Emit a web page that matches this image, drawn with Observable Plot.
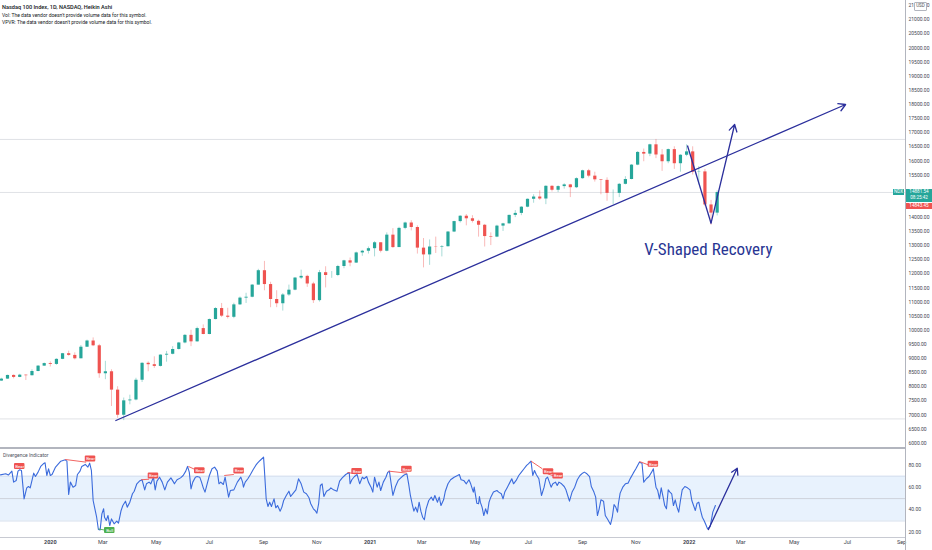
<!DOCTYPE html>
<html><head><meta charset="utf-8">
<script src="https://cdn.jsdelivr.net/npm/d3@7"></script>
<script src="https://cdn.jsdelivr.net/npm/@observablehq/plot@0.6"></script>
<style>
body{margin:0;background:#fff;font-family:Roboto,"Noto Sans",sans-serif;}
#wrap{position:relative;width:932px;height:550px;overflow:hidden;background:#fff;}
#main{position:absolute;left:0;top:0;}
#ind{position:absolute;left:0;top:448px;}
.hdr{position:absolute;left:2px;font-size:5px;line-height:6px;color:#131722;white-space:nowrap;}
.line{position:absolute;background:#b2b5be;}
.badge{position:absolute;color:#fff;font-size:4.6px;line-height:6px;text-align:center;white-space:nowrap;}
</style></head><body>
<div id="wrap">
  <div id="main"></div>
  <div id="ind"></div>
  <div class="line" style="left:0;top:447px;width:905px;height:1.5px;"></div>
  <div class="line" style="left:0;top:537px;width:905px;height:1px;background:#c8cad2"></div>
  <div class="line" style="left:905px;top:0;width:1px;height:550px;"></div>
  <div class="hdr" style="top:4px;font-size:5.6px;font-weight:500;">Nasdaq 100 Index, 1D, NASDAQ, Heikin Ashi</div>
  <div class="hdr" style="top:11.5px;">Vol: The data vendor doesn't provide volume data for this symbol.</div>
  <div class="hdr" style="top:19px;">VPVR: The data vendor doesn't provide volume data for this symbol.</div>
  <div class="hdr" style="top:452px;left:3px;color:#50535e">Divergence Indicator</div>
  <div class="badge" style="left:914px;top:1.5px;width:11px;height:7px;background:#fff;color:#555;border:0.5px solid #b2b5be;border-radius:1px;">USD</div>
  <div class="badge" style="left:893px;top:189px;width:11px;height:6px;background:#26a69a;">NDX</div>
  <div class="badge" style="left:906px;top:189px;width:26px;height:13px;background:#26a69a;">14881.54<br>08:25:42</div>
  <div class="badge" style="left:906px;top:202.5px;width:26px;height:6.5px;background:#ef5350;">14843.45</div>
</div>
<script>
// ---------- weekly Heikin-Ashi-style candles (mid-week dates from 2019-11-06) ----------
const firstOpen = 8200;
const closes = [
  8270, 8400, 8330, 8410, 8390, 8540, 8730, 8820,
  8790, 8970, 9170, 9110, 8990, 9400, 9620, 9450, 8460, 8530, 7880, 6990, 7500, 7530, 8230, 8830, 8780, 8720, 9120, 9150, 9320, 9550, 9820, 9590, 10060, 9850, 10380, 10770, 10500, 10460, 10900, 11140, 11170, 11600, 12110, 11620, 11090, 10940, 11250, 11420, 11850, 11910, 11640, 11050, 12040, 11940, 11940, 12260, 12460, 12380, 12740, 12800,
  12890, 13100, 12800, 13370, 12930, 13610, 13800, 13640, 12910, 12670, 12950, 12940, 12960, 13480, 13850, 14040, 13950, 13860, 13720, 13320, 13300, 13690, 13770, 14070, 14140, 14360, 14640, 14720, 14650, 15100, 14960, 15090, 15150, 15050, 15370, 15650, 15460, 15330, 15310, 14850, 14850, 15170, 15340, 15850, 16300, 16240, 16570, 16210, 15970, 16400, 15900, 16200, 16320,
  15600, 15610, 14440, 14150, 14880
];
const highs = [
  8300, 8410, 8420, 8440, 8420, 8600, 8750, 8840,
  8880, 8990, 9180, 9260, 9200, 9460, 9650, 9730, 9500, 8900, 8600, 8000, 7600, 7700, 8300, 8850, 8880, 9060, 9130, 9250, 9420, 9570, 9850, 10000, 10110, 10190, 10400, 10800, 10950, 10780, 10960, 11180, 11310, 11620, 12160, 12440, 11700, 11400, 11300, 11600, 11870, 12130, 11950, 11700, 12120, 12250, 12080, 12300, 12480, 12560, 12770, 12830,
  12950, 13140, 13100, 13450, 13600, 13650, 13830, 13880, 13700, 13250, 13200, 13300, 13000, 13500, 13860, 14060, 14100, 14060, 13900, 13750, 13450, 13720, 13790, 14080, 14240, 14380, 14650, 14800, 14940, 15120, 15120, 15120, 15190, 15170, 15400, 15670, 15700, 15600, 15340, 15400, 14970, 15200, 15440, 15870, 16330, 16420, 16590, 16760, 16400, 16420, 16500, 16220, 16570,
  16500, 15800, 15700, 14600, 14940
];
const lows = [
  8190, 8260, 8280, 8320, 8220, 8380, 8530, 8720,
  8700, 8760, 8960, 9080, 8950, 8990, 9390, 9420, 8300, 8250, 7300, 6880, 6800, 7360, 7500, 8150, 8530, 8650, 8700, 8870, 9130, 9300, 9520, 9420, 9580, 9840, 9840, 10370, 10450, 10400, 10410, 10880, 10950, 11150, 11600, 11400, 10800, 10800, 10680, 11200, 11400, 11800, 11520, 10950, 11000, 11500, 11840, 11900, 12180, 12250, 12370, 12620,
  12700, 12600, 12740, 12780, 12900, 12930, 13560, 13520, 12700, 12210, 12300, 12720, 12600, 12950, 13460, 13800, 13700, 13800, 13300, 12950, 13000, 13280, 13500, 13760, 13990, 14060, 14340, 14500, 14600, 14450, 14900, 14880, 15000, 14700, 15020, 15350, 15400, 15250, 14800, 14570, 14450, 14700, 15150, 15330, 15830, 15970, 16150, 16080, 15630, 15900, 15700, 15600, 16150,
  15500, 15150, 14380, 13720, 14050
];

// ---------- drawings (day = days since 2019-11-05) ----------
const trendDays = [132, 967], trendVals = [6804, 17998];
const vDays = [786, 813, 840], vVals = [16546, 13793, 17290];
const recoveryText = "V-Shaped Recovery", recoveryDay = 810, recoveryVal = 12861;
const priceLines = [16760, 14881.54, 6860];
// 14500 and 15000 are hidden behind the price badges in the reference
const priceTicks = [6000, 6500, 7000, 7500, 8000, 8500, 9000, 9500, 10000, 10500, 11000, 11500, 12000, 12500, 13000, 13500, 14000, 15500, 16000, 16500, 17000, 17500, 18000, 18500, 19000, 19500, 20000, 20500, 21000, 21500];

// ---------- divergence indicator ----------
const rsiDays = [0,6,9,13,15,18,20,22,24,27,30,32,34,38,40,43,46,49,51,53,55,57,59,63,69,74,76,78,80,83,86,88,91,93,97,100,102,104,106,108,110,112,114,116,118,119,121,123,125,127,130,133,135,138,140,143,145,148,151,153,156,159,162,165,167,170,172,175,177,179,182,185,188,191,195,198,199,202,206,209,212,214,216,218,220,223,225,228,230,232,234,237,239,242,245,248,250,252,255,257,259,261,263,267,271,275,
  277,278,280,283,286,289,292,294,297,301,302,304,306,308,310,313,315,317,320,322,324,327,330,332,335,338,341,344,347,350,353,355,358,360,362,364,366,368,370,373,376,378,381,385,388,391,395,399,400,402,405,408,411,414,416,419,421,424,426,428,431,433,435,438,441,443,445,447,449,452,455,458,461,463,465,467,469,471,473,475,477,479,481,483,485,487,490,493,495,497,500,502,504,507,509,512,515,519,523,525,527,530,533,536,538,541,542,545,547,548,
  549,551,553,555,557,559,561,564,568,570,573,575,577,580,583,585,587,590,593,596,599,602,604,607,609,611,613,616,619,622,624,626,628,630,632,635,637,639,642,645,647,649,651,654,657,660,663,666,668,671,674,676,679,681,683,685,687,690,692,695,698,700,702,704,706,707,709,712,715,718,721,724,727,729,731,734,736,739,742,745,747,748,750,752,754,756,758,760,762,764,766,768,770,772,774,776,778,780,783,786,789,791,793,795,797,799,801,803,805,807,809,812,814,815,818];
const rsiVals = [71.2,72.1,71,74.5,64.7,66.2,74.5,75.7,75.1,49.8,59.6,60.8,59.6,72.7,69.7,73.6,78.7,81,81.9,70.6,76.6,70.6,71.5,78.1,83.4,84.6,83.4,53.7,64.7,60.2,61.7,71.5,74.5,78.7,80.5,78.1,81.6,75.1,48.3,40.9,33.4,22.4,22.1,36.4,40.9,33.4,30.5,34.9,26,31.9,27.5,29.9,28.1,39.4,43.8,47.7,42.4,46.8,54.3,56.6,63.2,65.6,66.8,57.8,63.2,64.7,63.2,69.1,57.8,65.6,69.1,64.7,57.8,64.7,68.5,64.7,63.2,66.8,68.5,70.6,74.5,78.7,73.6,58.7,64.7,69.1,69.7,69.1,64.7,59.6,55.8,64.7,70.6,76.6,78.1,74.5,63.2,64.7,62.6,69.1,60.2,51.3,57.2,57.8,64.7,69.1,
  64.7,60.2,64.7,67.7,71.5,75.7,79.6,81.6,84,87,75.1,49.8,43,46.8,43,49.8,41.8,43.8,38.8,42.4,48.3,52.8,56.6,51.9,54.9,57.8,67.7,63.2,55.8,54.3,50.7,45.4,40.9,39.4,37,45.4,61.7,63.2,51.9,56.6,57.8,59.6,57.8,56.6,65.6,68.5,71.5,73.3,63.2,66.8,69.7,71.5,63.2,69.1,67.7,69.7,64.7,60.2,55.8,69.1,60.2,64.7,57.2,64.7,69.1,73.3,74.5,63.2,52.8,60.8,66.2,68.5,70.6,71.5,72.1,63.2,52.8,45.4,38.8,42.4,37.9,46.8,38.8,33.4,31.1,40.9,48.3,51.3,48.3,52.8,46.8,51.3,43.8,48.9,56.6,63.2,66.8,69.1,70.6,71.5,66.8,66.2,63.2,66.8,63.2,55.8,60.2,45.9,45.4,51.9,
  46.8,42.4,34.9,40.9,36.4,46.8,51.3,55.8,57.2,55.8,54.3,49.8,55.8,60.2,64.7,67.7,63.2,66.2,70.6,73.6,76.6,79.6,81,83.4,70.6,75.1,71.5,67.7,52.8,60.2,67.7,69.1,64.7,60.2,63.2,64.7,61.7,64.7,63.2,60.8,57.8,52.8,47.7,55.8,60.2,66.8,70.6,72.7,73.6,72.1,69.7,60.8,55.8,51.3,34.9,40.9,48.9,47.7,34.9,31.1,26.9,33.4,44.7,42.4,37.9,45.4,54.9,60.2,63.2,63.8,68.5,72.7,76.6,79.6,82.5,81.6,64.7,67.7,69.7,73.6,76.6,70.6,60.2,57.2,49.8,59.6,51.9,43.8,40.9,57.8,55.8,54.3,43.8,48.9,42.4,37.9,48.3,57.8,60.8,59.6,57.8,48.3,43.8,39.4,45.9,46.8,39.4,33.4,30.5,26.9,23,25.1,33.4,37.9,43.8];
const bandLow = 30, bandMid = 50, bandHigh = 70;
const rsiTicks = [20, 40, 60, 80];
const bearDays = [22, 103, 175, 228, 273, 408, 465, 627, 638, 747];
const bearVals = [78.7, 85.4, 70.2, 74.8, 74.6, 74.2, 76.2, 73.9, 70.2, 80.7];
const bullDays = [125], bullVals = [21.5];
const bearLineStartDays = [74, 161, 215, 256, 397, 444, 607, 626, 731];
const bearLineStartVals = [84.9, 66.8, 78.7, 70.6, 73.3, 74.5, 83.4, 72.1, 83.1];
const bearLineEndDays = [98, 170, 225, 267, 406, 465, 620, 637, 746];
const bearLineEndVals = [82.5, 67.3, 75.1, 71.5, 72.1, 72.7, 76.6, 69.1, 78.7];
const bullLineDays = [112, 122], bullLineVals = [23, 21.5];
const rsiArrowDays = [810, 843], rsiArrowVals = [22.4, 77.1];

// ---------- time axis ----------
const monthTicks = ["2020-03-01","2020-05-01","2020-07-01","2020-09-01","2020-11-01","2021-03-01","2021-05-01","2021-07-01","2021-09-01","2021-11-01","2022-03-01","2022-05-01","2022-07-01","2022-09-01"];
const monthLabels = ["Mar","May","Jul","Sep","Nov","Mar","May","Jul","Sep","Nov","Mar","May","Jul","Sep"];
const yearTicks = ["2020-01-01","2021-01-01","2022-01-01"];
const yearLabels = ["2020","2021","2022"];

// ---------- build ----------
const GREEN = "#26a69a", RED = "#ef5350", NAVY = "#2b2f9c";
const start = new Date(Date.UTC(2019, 10, 5));
const dayAt = n => new Date(start.getTime() + n * 86400000);
const xDomain = [dayAt(0), dayAt(1035.5)];

const candles = closes.map((c, i) => {
  const open = i ? closes[i - 1] : firstOpen;
  return {date: dayAt(1 + 7 * i), open, close: c, high: highs[i], low: lows[i], col: c >= open ? GREEN : RED};
});
const trend = [{x1: dayAt(trendDays[0]), y1: trendVals[0], x2: dayAt(trendDays[1]), y2: trendVals[1]}];
const vLeg = [{x1: dayAt(vDays[0]), y1: vVals[0], x2: dayAt(vDays[1]), y2: vVals[1]}];
const vUp = [{x1: dayAt(vDays[1]), y1: vVals[1], x2: dayAt(vDays[2]), y2: vVals[2]}];

const mainChart = Plot.plot({
  width: 932, height: 448,
  marginLeft: 0, marginRight: 27, marginTop: 0, marginBottom: 0,
  style: {fontFamily: "Roboto, sans-serif", color: "#434651", background: "transparent", overflow: "visible"},
  x: {type: "utc", domain: xDomain, axis: null},
  y: {domain: [5812, 21682], axis: null},
  color: {type: "identity"},
  marks: [
    Plot.ruleY(priceLines, {stroke: "#d8dae0", strokeWidth: 0.8}),
    Plot.ruleX(candles, {x: "date", y1: "low", y2: "high", stroke: "col", strokeWidth: 0.8, strokeOpacity: 0.5}),
    Plot.ruleX(candles, {x: "date", y1: "open", y2: "close", stroke: "col", strokeWidth: 3.2}),
    Plot.arrow(trend, {x1: "x1", y1: "y1", x2: "x2", y2: "y2", stroke: NAVY, strokeWidth: 1.3, headLength: 9}),
    Plot.link(vLeg, {x1: "x1", y1: "y1", x2: "x2", y2: "y2", stroke: NAVY, strokeWidth: 1.3}),
    Plot.arrow(vUp, {x1: "x1", y1: "y1", x2: "x2", y2: "y2", stroke: NAVY, strokeWidth: 1.3, headLength: 9}),
    Plot.text([recoveryText], {x: () => dayAt(recoveryDay), y: () => recoveryVal, text: d => d,
      fontSize: 17, fontFamily: "'Liberation Sans Narrow', 'Roboto Condensed', Roboto, sans-serif", fill: "#283593"}),
    Plot.axisY({anchor: "right", ticks: priceTicks, tickSize: 0, tickPadding: 3, fontSize: 5, tickFormat: d => d.toFixed(2)})
  ]
});
document.getElementById("main").append(mainChart);

const rsi = rsiDays.map((d, i) => ({date: dayAt(d), v: rsiVals[i]}));
const bears = bearDays.map((d, i) => ({day: d, v: bearVals[i], t: "Bear"}));
const bulls = bullDays.map((d, i) => ({day: d, v: bullVals[i], t: "Bull"}));
const bearLines = bearLineStartDays.map((d, i) => ({x1: dayAt(d), y1: bearLineStartVals[i], x2: dayAt(bearLineEndDays[i]), y2: bearLineEndVals[i]}));
const bullLines = [{x1: dayAt(bullLineDays[0]), y1: bullLineVals[0], x2: dayAt(bullLineDays[1]), y2: bullLineVals[1]}];
const rsiArrow = [{x1: dayAt(rsiArrowDays[0]), y1: rsiArrowVals[0], x2: dayAt(rsiArrowDays[1]), y2: rsiArrowVals[1]}];
const mLabel = new Map(monthTicks.map((t, i) => [+new Date(t), monthLabels[i]]));
const yLabel = new Map(yearTicks.map((t, i) => [+new Date(t), yearLabels[i]]));
const labelBox = (fill) => ({x1: d => dayAt(d.day - 6), x2: d => dayAt(d.day + 6), y1: d => d.v - 2.7, y2: d => d.v + 2.7, fill, rx: 1});

const indChart = Plot.plot({
  width: 932, height: 102,
  marginLeft: 0, marginRight: 27, marginTop: 1, marginBottom: 13,
  style: {fontFamily: "Roboto, sans-serif", color: "#434651", background: "transparent", overflow: "visible"},
  x: {type: "utc", domain: xDomain, axis: null},
  y: {domain: [15.3, 93.8], axis: null},
  marks: [
    Plot.rect([{lo: bandLow, hi: bandHigh}], {y1: "lo", y2: "hi", fill: "#e8f2fd"}),
    Plot.ruleY([bandLow, bandHigh], {stroke: "#cfd9e8", strokeWidth: 0.8}),
    Plot.ruleY([bandMid], {stroke: "#c5c8d0", strokeWidth: 0.8}),
    Plot.line(rsi, {x: "date", y: "v", stroke: "#3b6bdc", strokeWidth: 1.1}),
    Plot.link(bearLines, {x1: "x1", y1: "y1", x2: "x2", y2: "y2", stroke: RED, strokeWidth: 0.9}),
    Plot.link(bullLines, {x1: "x1", y1: "y1", x2: "x2", y2: "y2", stroke: "#4caf50", strokeWidth: 0.9}),
    Plot.rect(bears, labelBox(RED)),
    Plot.rect(bulls, labelBox("#4caf50")),
    Plot.text(bears.concat(bulls), {x: d => dayAt(d.day), y: "v", text: "t", fill: "#fff", fontSize: 4.3}),
    Plot.arrow(rsiArrow, {x1: "x1", y1: "y1", x2: "x2", y2: "y2", stroke: NAVY, strokeWidth: 1.3, headLength: 8}),
    Plot.axisY({anchor: "right", ticks: rsiTicks, tickSize: 0, tickPadding: 3, fontSize: 5, tickFormat: d => d.toFixed(2)}),
    Plot.axisX({ticks: monthTicks.map(t => new Date(t)), tickSize: 0, tickPadding: 3, fontSize: 5.5, tickFormat: d => mLabel.get(+d)}),
    Plot.axisX({ticks: yearTicks.map(t => new Date(t)), tickSize: 0, tickPadding: 3, fontSize: 5.5, fontWeight: "bold", tickFormat: d => yLabel.get(+d)})
  ]
});
document.getElementById("ind").append(indChart);
</script>
</body></html>
